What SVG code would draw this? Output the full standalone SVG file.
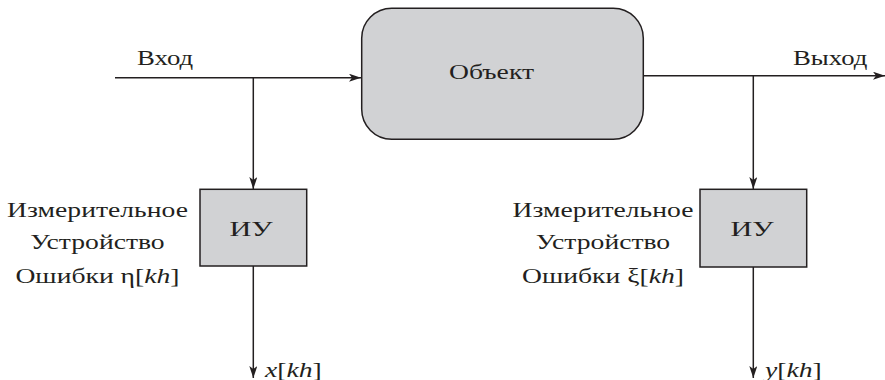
<svg xmlns="http://www.w3.org/2000/svg" width="885" height="380" viewBox="0 0 885 380">
<style>
text{font-family:"Liberation Serif","Times New Roman",serif;font-size:21.6px;fill:#231f20}
.it{font-style:italic}
.ln{stroke:#231f20;stroke-width:1.5;fill:none}
.box{fill:#d1d2d4;stroke:#231f20;stroke-width:1.5}
</style>
<defs>
<marker id="ah" viewBox="0 0 12 8" refX="12" refY="4" markerWidth="12" markerHeight="8" markerUnits="userSpaceOnUse" orient="auto">
<path d="M0,0 L12,4 L0,8 L3,4 Z" fill="#231f20"/>
</marker>
</defs>
<g id="connectors">
<path class="ln" d="M115,77.7 H361" marker-end="url(#ah)"/>
<path class="ln" d="M253.3,77.7 V189" marker-end="url(#ah)"/>
<path class="ln" d="M253.3,266 V378" marker-end="url(#ah)"/>
<path class="ln" d="M643,75.7 H885" marker-end="url(#ah)"/>
<path class="ln" d="M753.3,75.7 V189" marker-end="url(#ah)"/>
<path class="ln" d="M753.3,267 V378" marker-end="url(#ah)"/>
</g>
<g id="object">
<rect class="box" x="361.7" y="8.3" width="281.6" height="131" rx="30"/>
<text transform="translate(491.5 79) scale(1.28 1)" text-anchor="middle">Объект</text>
</g>
<g id="iu1">
<rect class="box" x="200" y="189.3" width="106.7" height="76.7"/>
<text transform="translate(251 236) scale(1.4 1)" text-anchor="middle">ИУ</text>
</g>
<g id="iu2">
<rect class="box" x="700" y="189.3" width="106.7" height="77.7"/>
<text transform="translate(752 236) scale(1.4 1)" text-anchor="middle">ИУ</text>
</g>
<g id="labels">
<text transform="translate(137 65) scale(1.24 1)">Вход</text>
<text transform="translate(793 65) scale(1.24 1)">Выход</text>
<text transform="translate(97.5 216.5) scale(1.28 1)" text-anchor="middle">Измерительное</text>
<text transform="translate(97.5 248.5) scale(1.28 1)" text-anchor="middle">Устройство</text>
<text transform="translate(97.5 282.5) scale(1.28 1)" text-anchor="middle">Ошибки η[<tspan class="it">kh</tspan>]</text>
<text transform="translate(603 216.5) scale(1.28 1)" text-anchor="middle">Измерительное</text>
<text transform="translate(603 248.5) scale(1.28 1)" text-anchor="middle">Устройство</text>
<text transform="translate(603 282.5) scale(1.28 1)" text-anchor="middle">Ошибки ξ[<tspan class="it">kh</tspan>]</text>
<text transform="translate(265 376.5) scale(1.28 1)"><tspan class="it">x</tspan>[<tspan class="it">kh</tspan>]</text>
<text transform="translate(765 376.5) scale(1.28 1)"><tspan class="it">y</tspan>[<tspan class="it">kh</tspan>]</text>
</g>
</svg>
